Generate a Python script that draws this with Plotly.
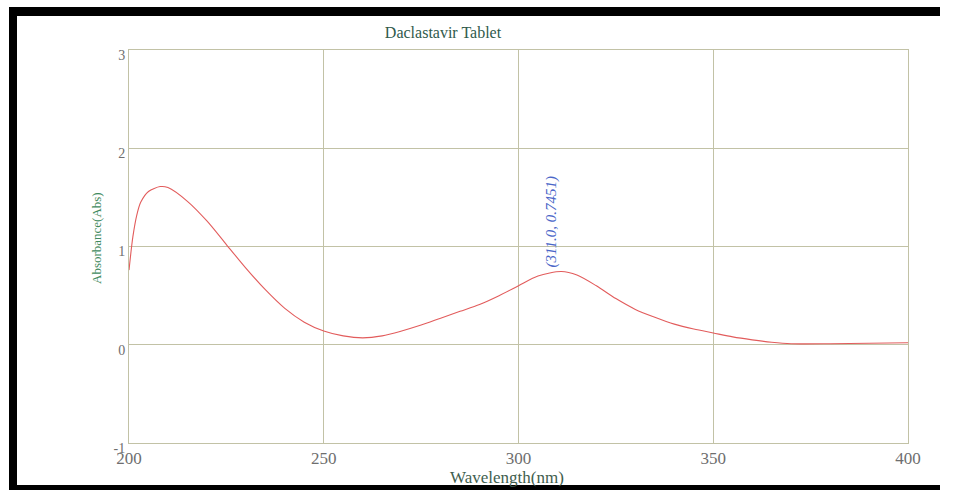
import plotly.graph_objects as go

# UV absorbance spectrum of the tablet sample
wavelength = [200, 201, 202, 203, 205, 208, 210, 215, 220, 225, 230, 235, 240, 245,
              250, 255, 260, 265, 270, 275, 280, 285, 290, 295, 300, 305, 311,
              315, 320, 325, 330, 335, 340, 345, 350, 355, 360, 365, 370, 380,
              390, 400]
absorbance = [0.76, 1.10, 1.32, 1.45, 1.56, 1.61, 1.60, 1.46, 1.26, 1.02, 0.78,
              0.56, 0.37, 0.23, 0.14, 0.09, 0.07, 0.09, 0.14, 0.20, 0.27, 0.34,
              0.41, 0.50, 0.60, 0.70, 0.7451, 0.71, 0.60, 0.47, 0.36, 0.28, 0.21,
              0.16, 0.12, 0.08, 0.05, 0.025, 0.01, 0.01, 0.015, 0.02]

peak_wl = 311.0
peak_abs = 0.7451

x_ticks = [200, 250, 300, 350, 400]
y_ticks = [-1, 0, 1, 2, 3]

SERIF = "Liberation Serif"
GRID = "#c2c2a6"

# plot-area edges in pixels, and pixel -> paper helpers
L, R, T, B = 129, 908, 50, 443
def px(v):
    return (v - L) / (R - L)
def py(v):
    return (B - v) / (B - T)

fig = go.Figure()
fig.add_trace(go.Scatter(
    x=wavelength, y=absorbance, mode="lines",
    line=dict(color="#e25c5c", width=1.1, shape="spline", smoothing=0.8),
    hoverinfo="skip", showlegend=False,
))

fig.add_annotation(
    x=peak_wl, y=peak_abs, xref="x", yref="y",
    text=f"({peak_wl:.1f}, {peak_abs:.4f})",
    textangle=-90, showarrow=False,
    xanchor="center", yanchor="bottom", xshift=-10, yshift=2,
    font=dict(family=SERIF, size=15, color="#4a66c8", style="italic"),
)

# axis titles
fig.add_annotation(
    x=px(507), y=py(477), xref="paper", yref="paper",
    text="Wavelength(nm)", showarrow=False,
    xanchor="center", yanchor="middle",
    font=dict(family=SERIF, size=17, color="#3f5e4e"),
)
fig.add_annotation(
    x=px(97), y=py(238), xref="paper", yref="paper",
    text="Absorbance(Abs)", showarrow=False, textangle=-90,
    xanchor="center", yanchor="middle",
    font=dict(family=SERIF, size=13, color="#3f8a5e"),
)

# black frame around the chart
frame = [
    (9, 940, 7, 16),    # top band
    (9, 17, 7, 490),    # left band
    (9, 940, 485, 490), # bottom band
]
for x0, x1, y0, y1 in frame:
    fig.add_shape(type="rect", xref="paper", yref="paper",
                  x0=px(x0), x1=px(x1), y0=py(y0), y1=py(y1),
                  fillcolor="black", line=dict(width=0), layer="above")

fig.update_layout(
    width=954, height=490,
    margin=dict(l=L, r=954 - R, t=T, b=490 - B),
    paper_bgcolor="white", plot_bgcolor="white",
    title=dict(text="Daclastavir Tablet", x=443 / 954, xanchor="center",
               y=1 - 32 / 490, yanchor="middle",
               font=dict(family=SERIF, size=16, color="#2f5a4c")),
    xaxis=dict(
        range=[200, 400], tickvals=x_ticks, ticktext=[str(v) for v in x_ticks],
        showgrid=True, gridcolor=GRID, gridwidth=1, automargin=False,
        showline=True, linecolor=GRID, mirror=True, zeroline=False,
        ticks="", tickfont=dict(family=SERIF, size=17, color="#6e6e6e"),
    ),
    yaxis=dict(
        range=[-1, 3], tickvals=y_ticks, ticktext=[str(v) for v in y_ticks],
        showgrid=True, gridcolor=GRID, gridwidth=1, ticklabelshift=5,
        automargin=False,
        showline=True, linecolor=GRID, mirror=True, zeroline=False,
        ticks="", tickfont=dict(family=SERIF, size=14, color="#6e6e6e"),
    ),
)

fig.write_html("out.html")
